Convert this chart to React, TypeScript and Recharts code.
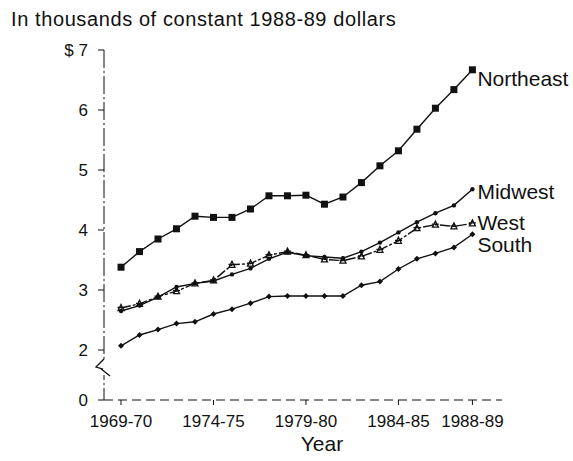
import React from 'react';
import { LineChart, Line, XAxis, YAxis, Label, LabelList } from 'recharts';

const years = [
  '1969-70', '1970-71', '1971-72', '1972-73', '1973-74', '1974-75', '1975-76',
  '1976-77', '1977-78', '1978-79', '1979-80', '1980-81', '1981-82', '1982-83',
  '1983-84', '1984-85', '1985-86', '1986-87', '1987-88', '1988-89',
];

const northeast = [3.38, 3.64, 3.85, 4.02, 4.23, 4.21, 4.21, 4.35, 4.57, 4.57, 4.58, 4.43, 4.55, 4.79, 5.07, 5.32, 5.68, 6.03, 6.34, 6.67];
const midwest = [2.65, 2.74, 2.88, 3.05, 3.11, 3.15, 3.26, 3.36, 3.52, 3.63, 3.57, 3.55, 3.53, 3.64, 3.79, 3.96, 4.13, 4.28, 4.41, 4.68];
const west = [2.70, 2.77, 2.89, 2.98, 3.11, 3.16, 3.42, 3.44, 3.58, 3.64, 3.58, 3.51, 3.49, 3.56, 3.67, 3.82, 4.03, 4.09, 4.06, 4.11];
const south = [2.07, 2.25, 2.34, 2.44, 2.47, 2.60, 2.68, 2.78, 2.89, 2.90, 2.90, 2.90, 2.90, 3.08, 3.14, 3.35, 3.52, 3.61, 3.71, 3.93];

// x ticks (index into years) and their labels
const xTicks = [0, 5, 10, 15, 19];
const xTickLabels = ['1969-70', '1974-75', '1979-80', '1984-85', '1988-89'];

// the axis is broken below 2, so "0" sits just under the break
const yTicks = [1.1667, 2, 3, 4, 5, 6, 7];
const yTickLabels = ['0', '2', '3', '4', '5', '6', '$ 7'];

const data = years.map((year, i) => ({
  idx: i,
  year,
  Northeast: northeast[i],
  Midwest: midwest[i],
  West: west[i],
  South: south[i],
}));

const FONT = '"Liberation Sans", Arial, Helvetica, sans-serif';
const INK = '#111';
const last = years.length - 1;

const squareDot = (p: any) => (
  <rect key={`ne-${p.index}`} x={p.cx - 3.5} y={p.cy - 3.5} width={7} height={7} fill={INK} />
);
const roundDot = (p: any) => (
  <circle key={`mw-${p.index}`} cx={p.cx} cy={p.cy} r={2.2} fill={INK} />
);
const starDot = (p: any) => (
  <path
    key={`w-${p.index}`}
    d={`M${p.cx} ${p.cy - 3.5} L${p.cx + 3} ${p.cy + 2.5} L${p.cx - 3} ${p.cy + 2.5} Z M${p.cx - 3.5} ${p.cy - 0.5} L${p.cx + 3.5} ${p.cy - 0.5}`}
    fill="none"
    stroke={INK}
    strokeWidth={1.3}
  />
);
const diamondDot = (p: any) => (
  <path
    key={`s-${p.index}`}
    d={`M${p.cx} ${p.cy - 3} L${p.cx + 3} ${p.cy} L${p.cx} ${p.cy + 3} L${p.cx - 3} ${p.cy} Z`}
    fill={INK}
  />
);

const endLabel = (name: string, dy: number) => (p: any) => {
  if (p.index !== last) return null;
  return (
    <text
      key={`lbl-${name}`}
      x={p.x + 5}
      y={p.y + dy}
      fontSize={21}
      fontFamily={FONT}
      fill={INK}
      dominantBaseline="central"
    >
      {name}
    </text>
  );
};

const tickStyle = { fontSize: 17, fontFamily: FONT, fill: INK };

export default function App() {
  return (
    <div style={{ position: 'absolute', left: 0, top: 0, width: 573, height: 461, background: '#fff' }}>
      <div
        style={{
          position: 'absolute',
          left: 11,
          top: 9,
          fontFamily: FONT,
          fontSize: 20,
          lineHeight: '20px',
          letterSpacing: 0.6,
          color: INK,
          whiteSpace: 'nowrap',
        }}
      >
        In thousands of constant 1988-89 dollars
      </div>
      <LineChart width={573} height={461} data={data} margin={{ top: 50, right: 71, bottom: 0, left: 0 }}>
        <XAxis
          type="number"
          dataKey="idx"
          domain={[-0.92, 20.6]}
          ticks={xTicks}
          tickFormatter={(v: number) => xTickLabels[xTicks.indexOf(v)]}
          height={61}
          stroke={INK}
          strokeDasharray="9 5"
          tickSize={5}
          tickMargin={10}
          tick={tickStyle}
          allowDataOverflow
        >
          <Label value="Year" position="insideBottom" offset={10} dx={19} style={{ fontSize: 21, fontFamily: FONT, fill: INK }} />
        </XAxis>
        <YAxis
          type="number"
          domain={[1.1667, 7]}
          ticks={yTicks}
          tickFormatter={(v: number) => yTickLabels[yTicks.indexOf(v)]}
          width={104}
          stroke={INK}
          strokeDasharray="18 3 2 3"
          tickSize={6}
          tickMargin={10}
          tick={tickStyle}
          allowDataOverflow
        />
        <Line dataKey="Northeast" stroke={INK} strokeWidth={1.4} dot={squareDot} isAnimationActive={false}>
          <LabelList dataKey="Northeast" content={endLabel('Northeast', 9)} />
        </Line>
        <Line dataKey="Midwest" stroke={INK} strokeWidth={1.4} dot={roundDot} isAnimationActive={false}>
          <LabelList dataKey="Midwest" content={endLabel('Midwest', 2)} />
        </Line>
        <Line dataKey="West" stroke={INK} strokeWidth={1.4} strokeDasharray="10 2 3 2" dot={starDot} isAnimationActive={false}>
          <LabelList dataKey="West" content={endLabel('West', -1)} />
        </Line>
        <Line dataKey="South" stroke={INK} strokeWidth={1.4} dot={diamondDot} isAnimationActive={false}>
          <LabelList dataKey="South" content={endLabel('South', 10)} />
        </Line>
      </LineChart>
      <svg width={573} height={461} style={{ position: 'absolute', left: 0, top: 0, pointerEvents: 'none' }}>
        <rect x={101} y={359} width={6} height={16} fill="#fff" />
        <path d="M104 359 L96 367 L103 369 M100 368 L110 376" fill="none" stroke={INK} strokeWidth={1.3} />
      </svg>
    </div>
  );
}
